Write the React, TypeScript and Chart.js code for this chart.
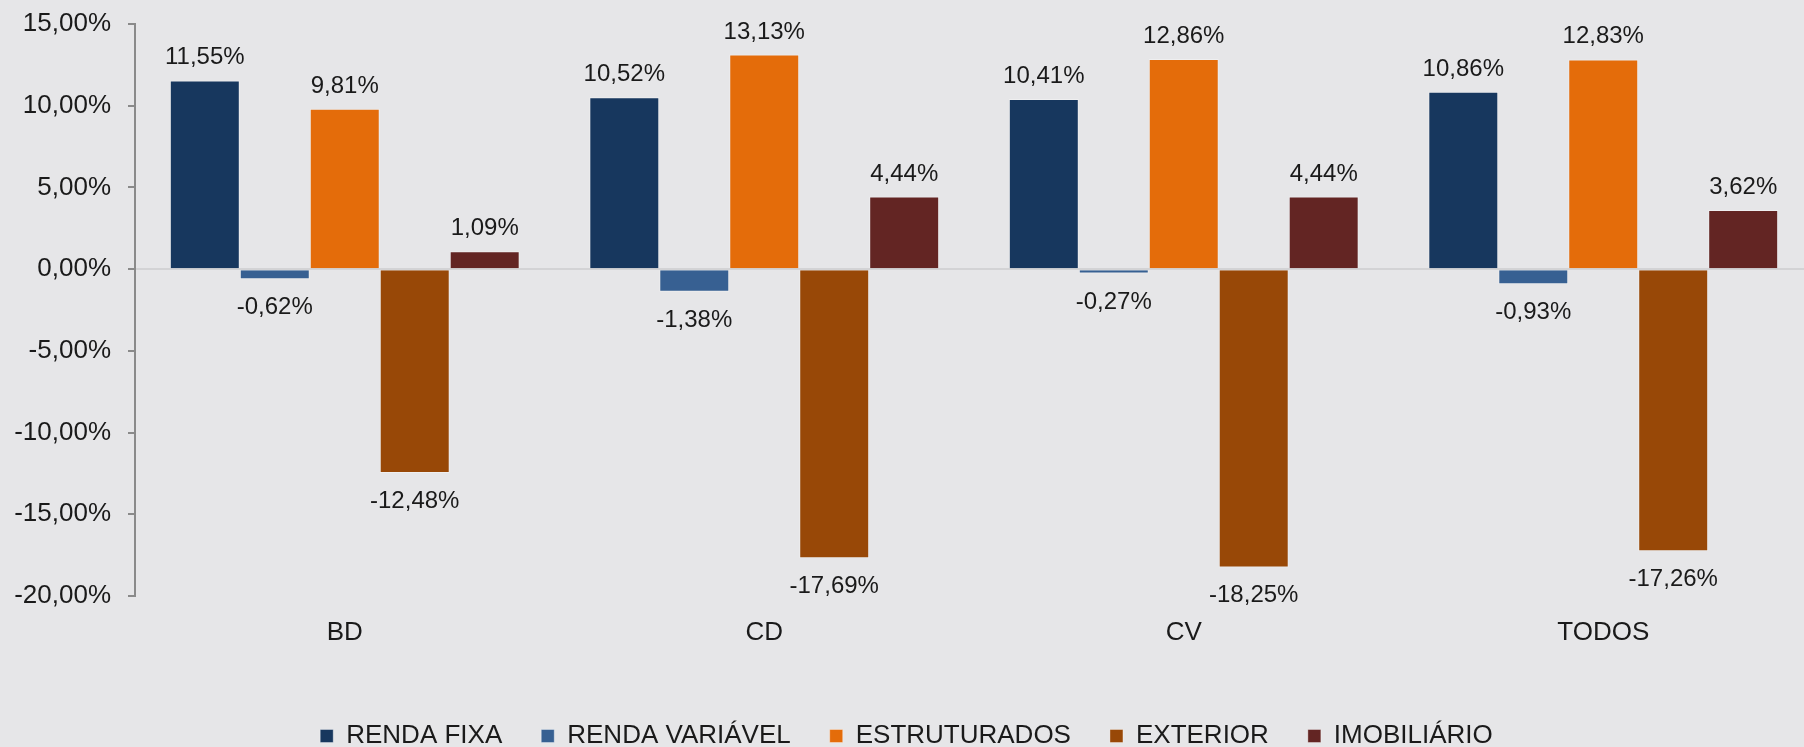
import React, { useEffect, useRef } from 'react';
import { Chart, registerables } from 'chart.js';

Chart.register(...registerables);

const categories = ['BD', 'CD', 'CV', 'TODOS'];
const seriesNames = ['RENDA FIXA', 'RENDA VARIÁVEL', 'ESTRUTURADOS', 'EXTERIOR', 'IMOBILIÁRIO'];
const rendaFixa = [11.55, 10.52, 10.41, 10.86];
const rendaVariavel = [-0.62, -1.38, -0.27, -0.93];
const estruturados = [9.81, 13.13, 12.86, 12.83];
const exterior = [-12.48, -17.69, -18.25, -17.26];
const imobiliario = [1.09, 4.44, 4.44, 3.62];
const seriesColors = ['#17375E', '#376092', '#E46C0A', '#984807', '#632523'];
const yMin = -20;
const yMax = 15;
const yStep = 5;

const FONT = '"Liberation Sans", Arial, sans-serif';
const TEXT = '#1a1a1a';

const fmt = (v: number) => v.toFixed(2).replace('.', ',') + '%';

const valueLabels = {
  id: 'valueLabels',
  afterDatasetsDraw(chart: any) {
    const ctx = chart.ctx;
    ctx.save();
    ctx.font = `24px ${FONT}`;
    ctx.fillStyle = TEXT;
    ctx.textAlign = 'center';
    ctx.textBaseline = 'alphabetic';
    chart.data.datasets.forEach((ds: any, i: number) => {
      const meta = chart.getDatasetMeta(i);
      meta.data.forEach((bar: any, j: number) => {
        const v = ds.data[j] as number;
        const { x, y } = bar.getProps(['x', 'y'], true);
        if (v >= 0) ctx.fillText(fmt(v), x, y - 16);
        else ctx.fillText(fmt(v), x, y + 35);
      });
    });
    ctx.restore();
  },
};

export default function App() {
  const ref = useRef<HTMLCanvasElement | null>(null);

  useEffect(() => {
    if (!ref.current) return;
    const values = [rendaFixa, rendaVariavel, estruturados, exterior, imobiliario];
    const chart = new Chart(ref.current, {
      type: 'bar',
      data: {
        labels: categories,
        datasets: seriesNames.map((name, i) => ({
          label: name,
          data: values[i],
          backgroundColor: seriesColors[i],
          borderColor: 'rgba(255,255,255,0.35)',
          borderWidth: 1,
          categoryPercentage: 0.834,
          barPercentage: 1,
        })),
      },
      options: {
        responsive: false,
        animation: false,
        devicePixelRatio: 1,
        layout: { padding: { left: 0, right: 28, top: 24, bottom: 0 } },
        plugins: {
          tooltip: { enabled: false },
          legend: {
            position: 'bottom',
            labels: {
              font: { size: 26, family: FONT },
              color: TEXT,
              boxWidth: 13,
              boxHeight: 13,
              padding: 39,
            },
          },
        },
        scales: {
          x: {
            grid: { display: false, drawTicks: false },
            border: { display: false },
            ticks: { font: { size: 26, family: FONT }, color: TEXT, padding: 21 },
            afterFit: (scale: any) => {
              scale.height = 88;
            },
          },
          y: {
            min: yMin,
            max: yMax,
            ticks: {
              stepSize: yStep,
              font: { size: 26, family: FONT },
              color: TEXT,
              padding: 17,
              callback: (v: any) => fmt(Number(v)),
            },
            grid: {
              color: (c: any) => (c.tick && c.tick.value === 0 ? '#d3d3d5' : 'rgba(0,0,0,0)'),
              lineWidth: 2,
              tickColor: '#8a8a8a',
              tickWidth: 2,
              tickLength: 7,
              drawTicks: true,
            },
            border: { display: true, color: '#8a8a8a', width: 2 },
            afterFit: (scale: any) => {
              scale.width = 135;
              scale.paddingTop = 0;
              scale.paddingBottom = 0;
            },
          },
        },
      },
      plugins: [valueLabels],
    });
    return () => chart.destroy();
  }, []);

  return (
    <div
      style={{
        position: 'fixed',
        left: 0,
        top: 0,
        width: 1804,
        height: 747,
        overflow: 'hidden',
        background: '#e6e6e8',
      }}
    >
      <canvas ref={ref} width={1841} height={759} style={{ display: 'block', width: 1841, height: 759 }} />
    </div>
  );
}
